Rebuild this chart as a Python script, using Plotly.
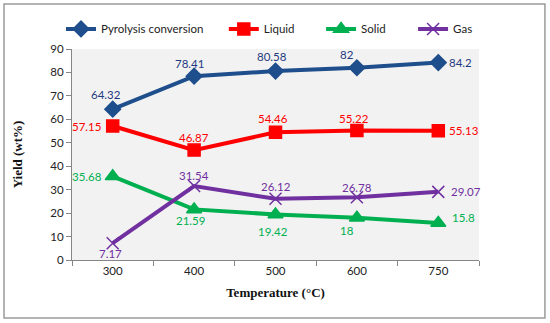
import plotly.graph_objects as go

categories = ["300", "400", "500", "600", "750"]
pyrolysis = [64.32, 78.41, 80.58, 82, 84.2]
liquid = [57.15, 46.87, 54.46, 55.22, 55.13]
solid = [35.68, 21.59, 19.42, 18, 15.8]
gas = [7.17, 31.54, 26.12, 26.78, 29.07]
y_ticks = [0, 10, 20, 30, 40, 50, 60, 70, 80, 90]

FONT = "Lato, Open Sans, sans-serif"
FS = 11.5

# label placement relative to each point: (anchor, dx, dy up)
series = [
    ("Pyrolysis conversion", pyrolysis, "#1F4E8C", "#1F3A80", "diamond", 12,
     [("center", -7, 15), ("center", -5, 13), ("center", -4, 15), ("center", -10, 13), ("left", 9, 0)],
     "legend", -0.027),
    ("Liquid", liquid, "#FF0000", "#FF0000", "square", 12,
     [("right", -10, 0), ("center", 0, 13), ("center", -3, 14), ("center", -3, 12), ("left", 9, 0)],
     "legend2", 0.373),
    ("Solid", solid, "#00B050", "#00B050", "triangle-up", 13,
     [("right", -9, 0), ("center", -4, -11), ("center", -3, -17), ("center", -10, -13), ("left", 12, 5)],
     "legend3", 0.612),
    ("Gas", gas, "#7030A0", "#7030A0", "x-thin-open", 12,
     [("center", -2, -10), ("center", 0, 11), ("center", 0, 12), ("center", 0, 10), ("left", 11, 0)],
     "legend4", 0.838),
]

fig = go.Figure()
annotations = []
legends = {}
for name, vals, color, tcolor, sym, size, offs, leg, legx in series:
    fig.add_trace(go.Scatter(
        x=categories, y=vals, name=name, mode="lines+markers",
        line=dict(color=color, width=4),
        marker=dict(symbol=sym, size=size, color=color,
                    line=dict(color=color, width=1.5)),
        cliponaxis=False, legend=leg,
    ))
    legends[leg] = dict(orientation="h", x=legx, y=1.095, xanchor="left", yanchor="middle",
                        font=dict(family=FONT, size=FS, color="#222222"),
                        bgcolor="rgba(0,0,0,0)", itemwidth=30)
    for i, (v, (anc, dx, dy)) in enumerate(zip(vals, offs)):
        annotations.append(dict(
            x=i, y=v, xref="x", yref="y", text=str(v), showarrow=False,
            xanchor=anc, yanchor="middle", xshift=dx, yshift=dy,
            font=dict(family=FONT, size=FS, color=tcolor),
        ))

fig.update_layout(
    width=550, height=323,
    margin=dict(l=72, r=71, t=49, b=63, autoexpand=False),
    paper_bgcolor="white", plot_bgcolor="#F2F2F2",
    font=dict(family=FONT, size=FS, color="#222222"),
    showlegend=True,
    xaxis=dict(type="category", range=[-0.5, 4.5], showgrid=False, showline=True,
               linecolor="#868686", ticks="outside", tickson="boundaries", ticklen=5,
               tickcolor="#868686",
               title=dict(text="<b>Temperature (°C)</b>", standoff=12,
                          font=dict(family="Liberation Serif, Times New Roman, serif", size=13, color="#111111")),
               tickfont=dict(size=FS, color="#222222")),
    yaxis=dict(range=[0, 90], tickvals=y_ticks, showgrid=False, showline=True,
               linecolor="#868686", ticks="outside", ticklen=5, tickcolor="#868686",
               zeroline=False,
               title=dict(text="<b>Yield (wt%)</b>", standoff=24,
                          font=dict(family="Liberation Serif, Times New Roman, serif", size=13, color="#111111")),
               tickfont=dict(size=FS, color="#222222")),
    annotations=annotations,
    shapes=[dict(type="rect", xref="paper", yref="paper",
                 x0=-0.167, x1=1.162, y0=-0.275, y1=1.213,
                 line=dict(color="#9A9A9A", width=1.5), fillcolor="rgba(0,0,0,0)")],
    **legends,
)

fig.write_html("out.html", config={"displayModeBar": False},
               post_script="document.body.style.margin='0px';document.body.style.overflow='hidden';")
